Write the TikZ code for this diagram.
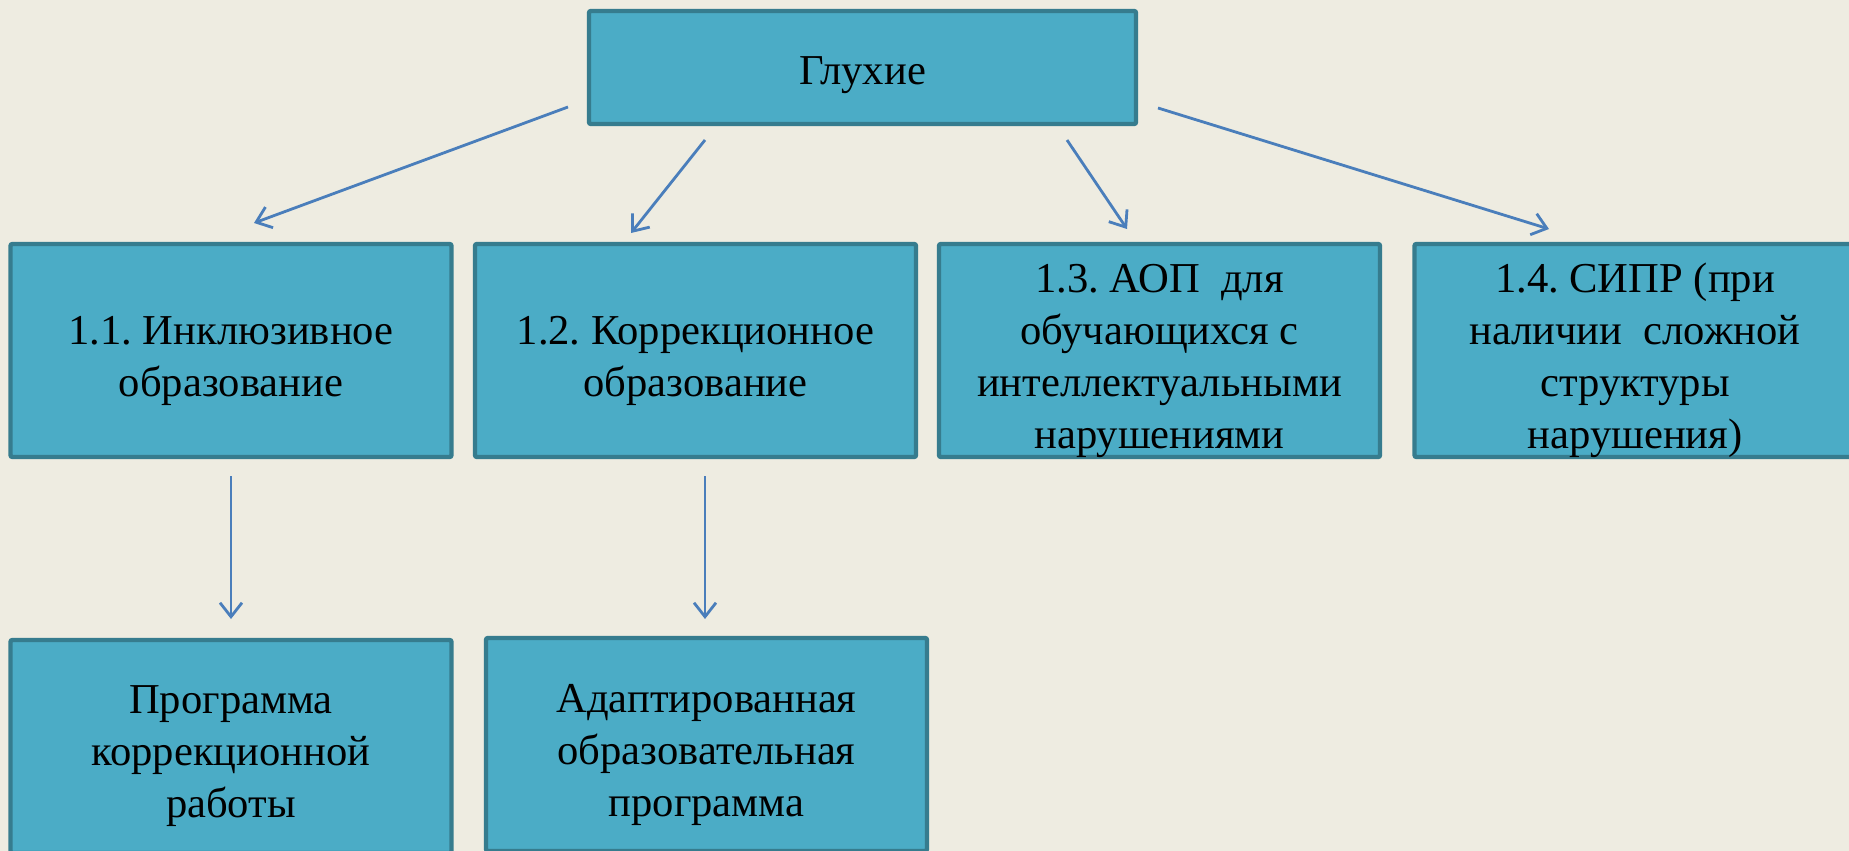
\documentclass[tikz,border=0pt]{standalone}
\usepackage{fontspec}
\setmainfont{Liberation Serif}
\usetikzlibrary{arrows.meta}
\definecolor{bg}{HTML}{EEECE1}
\definecolor{boxfill}{HTML}{4BACC6}
\definecolor{boxline}{HTML}{367C8E}
\definecolor{arr}{HTML}{4A7EBB}
\begin{document}
\frenchspacing
\begin{tikzpicture}[x=0.5pt,y=-0.5pt,
  box/.style={draw=boxline, line width=2.2pt, fill=boxfill, rounded corners=1pt,
    minimum width=220.5pt, minimum height=106.5pt, inner sep=0pt},
  lbl/.style={inner sep=0pt, align=center, text=black,
    font=\fontsize{21.3}{26}\selectfont},
  conn/.style={draw=arr, line width=1.4pt,
    -{Straight Barb[length=7pt,width=11pt,line width=1.4pt]}}]
\clip (0,0) rectangle (1849,851);
\fill[bg] (0,0) rectangle (1849,851);

\node[box, minimum width=273.5pt, minimum height=56.5pt] (top) at (862.5,67.5) {};
\node[box] (b11) at (231,350.5) {};
\node[box] (b12) at (695.5,350.5) {};
\node[box] (b13) at (1159.5,350.5) {};
\node[box] (b14) at (1635,350.5) {};
\node[box] (bA) at (231,746.5) {};
\node[box] (bB) at (706.5,744.5) {};

\node[lbl] (topt) at ([yshift=-4pt]top.center) {Глухие};
\node[lbl] (b11t) at ([yshift=-5pt]b11.center) {1.1. Инклюзивное\\образование};
\node[lbl] (b12t) at ([yshift=-5pt]b12.center) {1.2. Коррекционное\\образование};
\node[lbl] (b13t) at ([yshift=-5pt]b13.center) {1.3. АОП\ \ для\\обучающихся с\\интеллектуальными\\нарушениями};
\node[lbl] (b14t) at ([yshift=-5pt]b14.center) {1.4. СИПР (при\\наличии\ \ сложной\\структуры\\нарушения)};
\node[lbl] (bAt) at ([yshift=-5pt]bA.center) {Программа\\коррекционной\\работы};
\node[lbl] (bBt) at ([yshift=-5pt]bB.center) {Адаптированная\\образовательная\\программа};

\coordinate (a1s) at (568,107);  \coordinate (a1e) at (254,223);
\coordinate (a2s) at (705,140);  \coordinate (a2e) at (631,233);
\coordinate (a3s) at (1067,140); \coordinate (a3e) at (1127,229);
\coordinate (a4s) at (1158,108); \coordinate (a4e) at (1549,229);
\coordinate (a5s) at (231,476);  \coordinate (a5e) at (231,619);
\coordinate (a6s) at (705,476);  \coordinate (a6e) at (705,619);

\draw[conn] (a1s) -- (a1e);
\draw[conn] (a2s) -- (a2e);
\draw[conn] (a3s) -- (a3e);
\draw[conn] (a4s) -- (a4e);
\draw[conn] (a5s) -- (a5e);
\draw[conn] (a6s) -- (a6e);
\end{tikzpicture}
\end{document}
